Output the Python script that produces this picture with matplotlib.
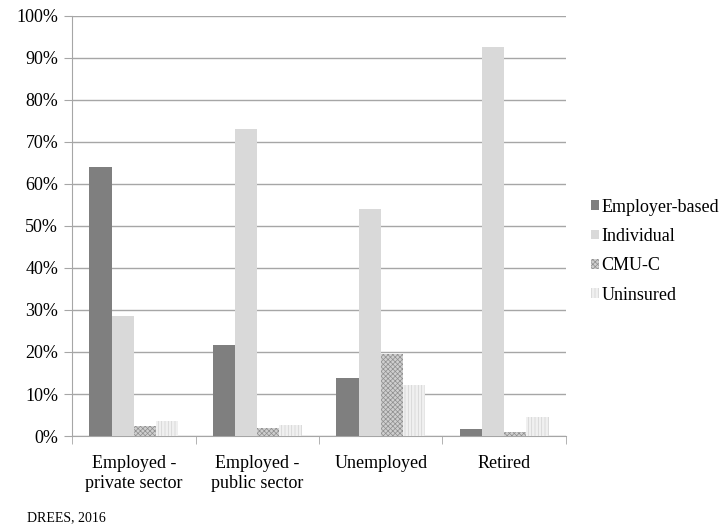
import matplotlib
matplotlib.use("Agg")
import matplotlib.pyplot as plt
import numpy as np

plt.rcParams['font.family'] = ['Liberation Serif', 'DejaVu Serif']
plt.rcParams['hatch.linewidth'] = 0.5

categories = ["Employed -\nprivate sector", "Employed -\npublic sector", "Unemployed", "Retired"]
series = ["Employer-based", "Individual", "CMU-C", "Uninsured"]
employer = [64.0, 21.7, 13.9, 1.6]
individual = [28.5, 73.0, 54.0, 92.5]
cmu = [2.4, 1.9, 19.5, 1.0]
uninsured = [3.6, 2.6, 12.1, 4.5]

values = [employer, individual, cmu, uninsured]
faces = ['#7f7f7f', '#d9d9d9', '#cfcfcf', '#f0f0f0']
hatches = [None, None, 'xxxxxxx', '|||||']
hatch_cols = [None, None, '#8f8f8f', '#d2d2d2']

fig = plt.figure(figsize=(7.26, 5.26), dpi=100)
ax = fig.add_axes([0.0992, 0.1711, 0.6804, 0.7985])

x = np.arange(len(categories))
w = 0.18
for i, (vals, name) in enumerate(zip(values, series)):
    pos = x + (i - 1.5) * w
    if hatches[i] is None:
        ax.bar(pos, vals, w, color=faces[i], label=name, zorder=3, linewidth=0)
    else:
        ax.bar(pos, vals, w, facecolor=faces[i], edgecolor=hatch_cols[i],
               hatch=hatches[i], label=name, zorder=3, linewidth=0)

ax.set_xlim(-0.5, len(categories) - 0.5)
ax.set_ylim(0, 100)
ax.set_yticks(np.arange(0, 101, 10))
ax.set_yticklabels([f"{v}%" for v in range(0, 101, 10)], fontsize=13)
ax.yaxis.grid(True, color='#a6a6a6', linewidth=1, zorder=0)
ax.set_axisbelow(True)

ax.set_xticks(x)
ax.set_xticklabels(categories, fontsize=13, linespacing=1.2)
ax.set_xticks(np.arange(-0.5, len(categories), 1), minor=True)
ax.tick_params(axis='x', which='major', length=0, pad=14)
ax.tick_params(axis='x', which='minor', length=6, color='#a6a6a6', direction='out')
ax.tick_params(axis='y', length=6, color='#a6a6a6', pad=4)

for s in ['top', 'right']:
    ax.spines[s].set_visible(False)
for s in ['left', 'bottom']:
    ax.spines[s].set_color('#a6a6a6')

# legende a droite, sans cadre
leg = ax.legend(loc='upper left', bbox_to_anchor=(1.05, 0.565), frameon=False,
                fontsize=13, handlelength=0.45, handleheight=0.45,
                handletextpad=0.15, labelspacing=0.68, borderpad=0,
                borderaxespad=0)

fig.text(0.037, 0.01, "DREES, 2016", fontsize=10)

fig.savefig("out.png", dpi=100)
